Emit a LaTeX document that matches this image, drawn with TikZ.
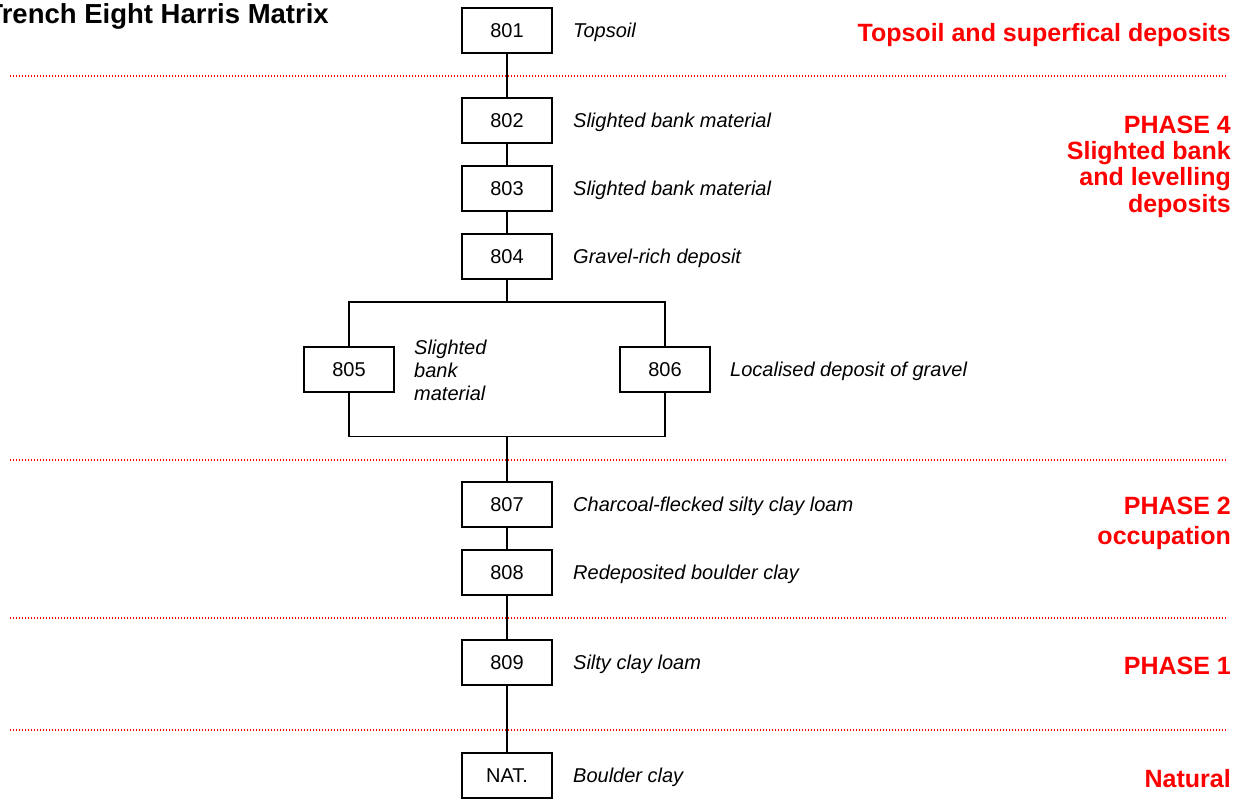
\documentclass[tikz,border=0pt]{standalone}
\usepackage{fontspec}
\setmainfont{Liberation Sans}
\begin{document}
\begin{tikzpicture}[x=1pt,y=-1pt,
  ctx/.style={draw=black, line width=1.8pt, minimum width=90pt, minimum height=45pt,
    inner sep=0pt, font=\fontsize{20}{23}\selectfont},
  desc/.style={anchor=base west, inner sep=0pt, font=\fontsize{20}{23}\selectfont\itshape},
  phase/.style={text=red, inner sep=0pt, align=right, font=\fontsize{25}{26.3}\selectfont\bfseries},
  link/.style={line width=1.8pt},
  divider/.style={draw=red, line width=1.3pt, dash pattern=on 1.3pt off 1.7pt}]
\useasboundingbox (0,0) rectangle (1253,799);

% title (runs off the left edge)
\node[anchor=base east, inner sep=0pt, font=\fontsize{27.5}{29}\selectfont\bfseries] (title) at (329,23.5) {Trench Eight Harris Matrix};

% contexts
\node[ctx] (c801) at (507,30.5) {801};
\node[ctx] (c802) at (507,120.5) {802};
\node[ctx] (c803) at (507,188.5) {803};
\node[ctx] (c804) at (507,256.5) {804};
\node[ctx] (c805) at (349,369.5) {805};
\node[ctx] (c806) at (665,369.5) {806};
\node[ctx] (c807) at (507,504.5) {807};
\node[ctx] (c808) at (507,572.5) {808};
\node[ctx] (c809) at (507,662.5) {809};
\node[ctx] (cnat) at (507,775.5) {NAT.};

% descriptions
\node[desc] (d801) at (573,37.5) {Topsoil};
\node[desc] (d802) at (573,127.5) {Slighted bank material};
\node[desc] (d803) at (573,195.5) {Slighted bank material};
\node[desc] (d804) at (573,263.5) {Gravel-rich deposit};
\node[anchor=west, inner sep=0pt, align=left, font=\fontsize{20}{23}\selectfont\itshape] (d805) at (414,370.5) {Slighted\\bank\\material};
\node[desc] (d806) at (730,376.5) {Localised deposit of gravel};
\node[desc] (d807) at (573,511.5) {Charcoal-flecked silty clay loam};
\node[desc] (d808) at (573,579.5) {Redeposited boulder clay};
\node[desc] (d809) at (573,669.5) {Silty clay loam};
\node[desc] (dnat) at (573,782.5) {Boulder clay};

% stratigraphic links
\coordinate (splitT) at (507,302);
\coordinate (splitB) at (507,436.5);
\coordinate (tl) at (349,302);
\coordinate (tr) at (665,302);
\coordinate (bl) at (349,436.5);
\coordinate (br) at (665,436.5);
\draw[link] (c801) -- (c802);
\draw[link] (c802) -- (c803);
\draw[link] (c803) -- (c804);
\draw[link] (c804) -- (splitT);
\draw[link] (c805.north) -- (tl) -- (tr) -- (c806.north);
\draw[link] (c805.south) -- (bl) -- (br) -- (c806.south);
\draw[link] (splitB) -- (c807);
\draw[link] (c807) -- (c808);
\draw[link] (c808) -- (c809);
\draw[link] (c809) -- (cnat);

% phase dividers
\foreach \n/\y in {a/76,b/460,c/618,d/730} {
  \coordinate (\n L) at (10,\y);
  \coordinate (\n R) at (1227,\y);
  \draw[divider] (\n L) -- (\n R);
}

% phase labels
\node[phase, anchor=base east] (p0) at (1231,42) {Topsoil and superfical deposits};
\node[phase, anchor=north east] (p4) at (1231,115.5) {PHASE 4\\Slighted bank\\and levelling\\deposits};
\node[phase, anchor=north east, font=\fontsize{25}{30}\selectfont\bfseries] (p2) at (1231,497) {PHASE 2\\occupation};
\node[phase, anchor=base east] (p1) at (1231,674) {PHASE 1};
\node[phase, anchor=base east] (pn) at (1231,787) {Natural};
\end{tikzpicture}
\end{document}
